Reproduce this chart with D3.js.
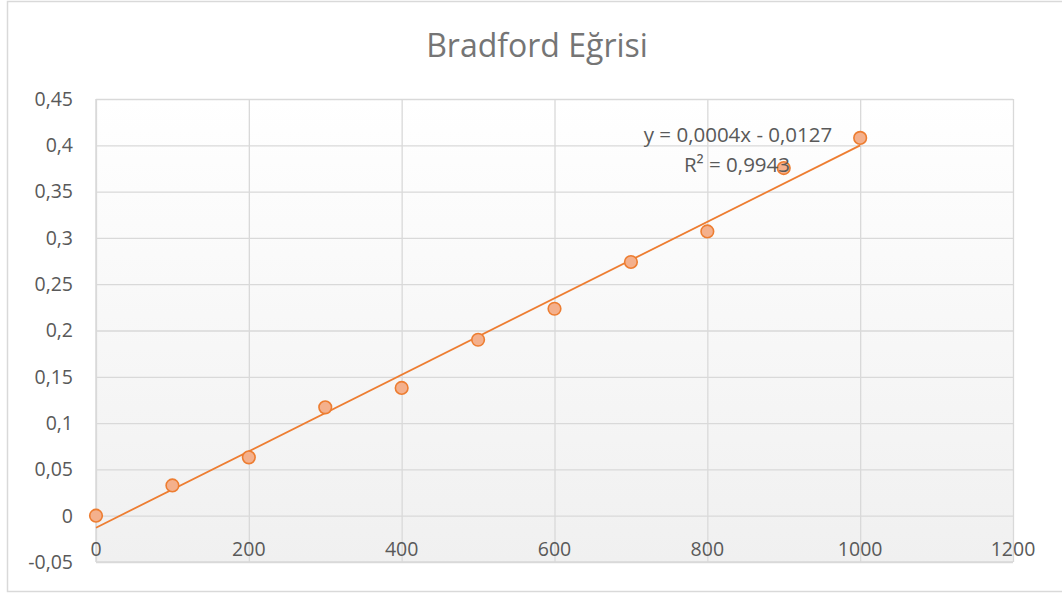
<!DOCTYPE html>
<html><head><meta charset="utf-8">
<script src="https://cdn.jsdelivr.net/npm/d3@7"></script>
<style>body{margin:0;background:#fff;font-family:"Open Sans",sans-serif;}</style>
</head><body>
<svg id="c" width="1062" height="594"></svg>
<script>
const xValues = [0, 100, 200, 300, 400, 500, 600, 700, 800, 900, 1000];
const yValues = [0, 0.0327, 0.063, 0.117, 0.138, 0.190, 0.2235, 0.274, 0.307, 0.3754, 0.408];
const xTicks = [0, 200, 400, 600, 800, 1000, 1200];
const yTicks = [-0.05, 0, 0.05, 0.1, 0.15, 0.2, 0.25, 0.3, 0.35, 0.4, 0.45];
const title = "Bradford Eğrisi";
const eqText = "y = 0,0004x - 0,0127";
const r2Text = "R² = 0,9943";

const svg = d3.select("#c");
const L = 96, R = 1013, T = 99, B = 562;
const x = d3.scaleLinear().domain([0, 1200]).range([L, R]);
const y = d3.scaleLinear().domain([-0.05, 0.45]).range([B, T]);
const fmt = v => (Math.round(v*100)/100).toString().replace(".", ",");

svg.append("rect").attr("x", 7.5).attr("y", 1.5).attr("width", 1080).attr("height", 590)
  .attr("fill", "#fff").attr("stroke", "#d9d9d9").attr("stroke-width", 1.5);

const defs = svg.append("defs");
const g = defs.append("linearGradient").attr("id", "bg").attr("x1", 0).attr("y1", 0).attr("x2", 0).attr("y2", 1);
g.append("stop").attr("offset", "0%").attr("stop-color", "#ffffff");
g.append("stop").attr("offset", "100%").attr("stop-color", "#f0f0f0");
svg.append("rect").attr("x", L).attr("y", T).attr("width", R - L).attr("height", B - T).attr("fill", "url(#bg)");

svg.append("g").attr("transform", `translate(${L},0)`)
  .call(d3.axisLeft(y).tickValues(yTicks).tickSize(-(R - L)).tickFormat(""))
  .call(s => { s.select(".domain").remove(); s.selectAll("line").attr("stroke", "#d9d9d9").attr("stroke-width", 1.3); });
svg.append("g").attr("transform", `translate(0,${B})`)
  .call(d3.axisBottom(x).tickValues(xTicks).tickSize(-(B - T)).tickFormat(""))
  .call(s => { s.select(".domain").remove(); s.selectAll("line").attr("stroke", "#d9d9d9").attr("stroke-width", 1.3); });
svg.append("line").attr("x1", L).attr("x2", L).attr("y1", T).attr("y2", B).attr("stroke", "#d9d9d9").attr("stroke-width", 1.5);
svg.append("line").attr("x1", L).attr("x2", R).attr("y1", B).attr("y2", B).attr("stroke", "#d9d9d9").attr("stroke-width", 1.5);

svg.append("g").selectAll("text").data(yTicks).join("text")
  .attr("x", 73).attr("y", d => y(d)).attr("dy", "0.35em").attr("text-anchor", "end")
  .attr("font-size", 19.5).attr("fill", "#595959").text(fmt);
svg.append("g").selectAll("text").data(xTicks).join("text")
  .attr("x", d => x(d)).attr("y", y(0) + 40).attr("text-anchor", "middle")
  .attr("font-size", 19.5).attr("fill", "#595959").text(d => d);

svg.append("text").attr("x", 537).attr("y", 57).attr("text-anchor", "middle")
  .attr("font-size", 32).attr("fill", "#757575").text(title);

const n = xValues.length;
const mx = d3.mean(xValues), my = d3.mean(yValues);
let sxy = 0, sxx = 0;
for (let i = 0; i < n; i++) { sxy += (xValues[i]-mx)*(yValues[i]-my); sxx += (xValues[i]-mx)**2; }
const slope = sxy / sxx, icpt = my - slope * mx;
const x0 = d3.min(xValues), x1 = d3.max(xValues);
svg.append("line").attr("x1", x(x0)).attr("y1", y(icpt + slope*x0)).attr("x2", x(x1)).attr("y2", y(icpt + slope*x1))
  .attr("stroke", "#ed7d31").attr("stroke-width", 1.8);

svg.append("g").selectAll("circle").data(xValues.map((v, i) => [v, yValues[i]])).join("circle")
  .attr("cx", d => x(d[0])).attr("cy", d => y(d[1])).attr("r", 6.3)
  .attr("fill", "#f4b08c").attr("stroke", "#ed7d31").attr("stroke-width", 1.6);

svg.append("text").attr("x", 738).attr("y", 142).attr("text-anchor", "middle")
  .attr("font-size", 20.5).attr("fill", "#595959").text(eqText);
svg.append("text").attr("x", 737).attr("y", 172).attr("text-anchor", "middle")
  .attr("font-size", 20.5).attr("fill", "#595959").text(r2Text);
</script>
</body></html>
